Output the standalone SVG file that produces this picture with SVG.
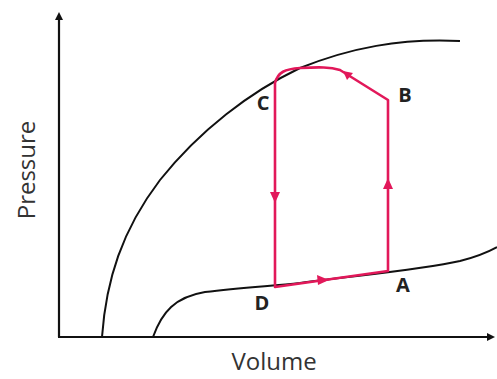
<svg xmlns="http://www.w3.org/2000/svg" width="497" height="379" viewBox="0 0 497 379">
<style>
.ax{stroke:#111;stroke-width:2.2;fill:none}
.cv{stroke:#111;stroke-width:2;fill:none}
.cy{stroke:#e2185a;stroke-width:2.6;fill:none;stroke-linejoin:round}
.lbl{font-family:"Open Sans","Liberation Sans",sans-serif;font-weight:bold;font-size:20px;fill:#222}
.ttl{font-family:"Open Sans","Liberation Sans",sans-serif;font-size:24px;fill:#333}
.ar{fill:#e2185a}
</style>
<defs>
<marker id="axh" markerWidth="8" markerHeight="8" refX="4" refY="4" orient="auto" markerUnits="userSpaceOnUse">
<path d="M0,0 L8,4 L0,8 Z" fill="#111"/>
</marker>
</defs>
<rect width="497" height="379" fill="#fff"/>
<g id="axes">
<line class="ax" x1="59" y1="337" x2="59" y2="16" marker-end="url(#axh)"/>
<line class="ax" x1="58" y1="337" x2="491" y2="337" marker-end="url(#axh)"/>
</g>
<g id="curves">
<path class="cv" d="M102,337 C106,280 122,230 160,180 C200,130 250,92 300,68 C350,48 400,38 460,41"/>
<path class="cv" d="M153,337 C162,312 175,297 205,292 C240,288 270,286 300,283 C360,275 420,270 460,261 C475,257 488,252 497,247"/>
</g>
<g id="connectors">
<path class="cy" d="M275,287 L275,83 C278,72 285,69 300,68 C320,67 330,67 340,70 L388,100 L388,271 Z"/>
<path class="ar" d="M270,192 L280,192 L275,203 Z"/>
<path class="ar" d="M383,189 L393,189 L388,178 Z"/>
<path class="ar" d="M317,275 L329,280 L318,285 Z"/>
<path class="ar" d="M343,71 L353,73 L347,80 Z"/>
</g>
<g id="C"><text class="lbl" x="263" y="110" text-anchor="middle">C</text></g>
<g id="B"><text class="lbl" x="405" y="102" text-anchor="middle">B</text></g>
<g id="A"><text class="lbl" x="403" y="292" text-anchor="middle">A</text></g>
<g id="D"><text class="lbl" x="262" y="310" text-anchor="middle">D</text></g>
<g id="labels">
<text class="ttl" x="274" y="370" text-anchor="middle">Volume</text>
<text class="ttl" transform="translate(35,170) rotate(-90)" text-anchor="middle">Pressure</text>
</g>
</svg>
